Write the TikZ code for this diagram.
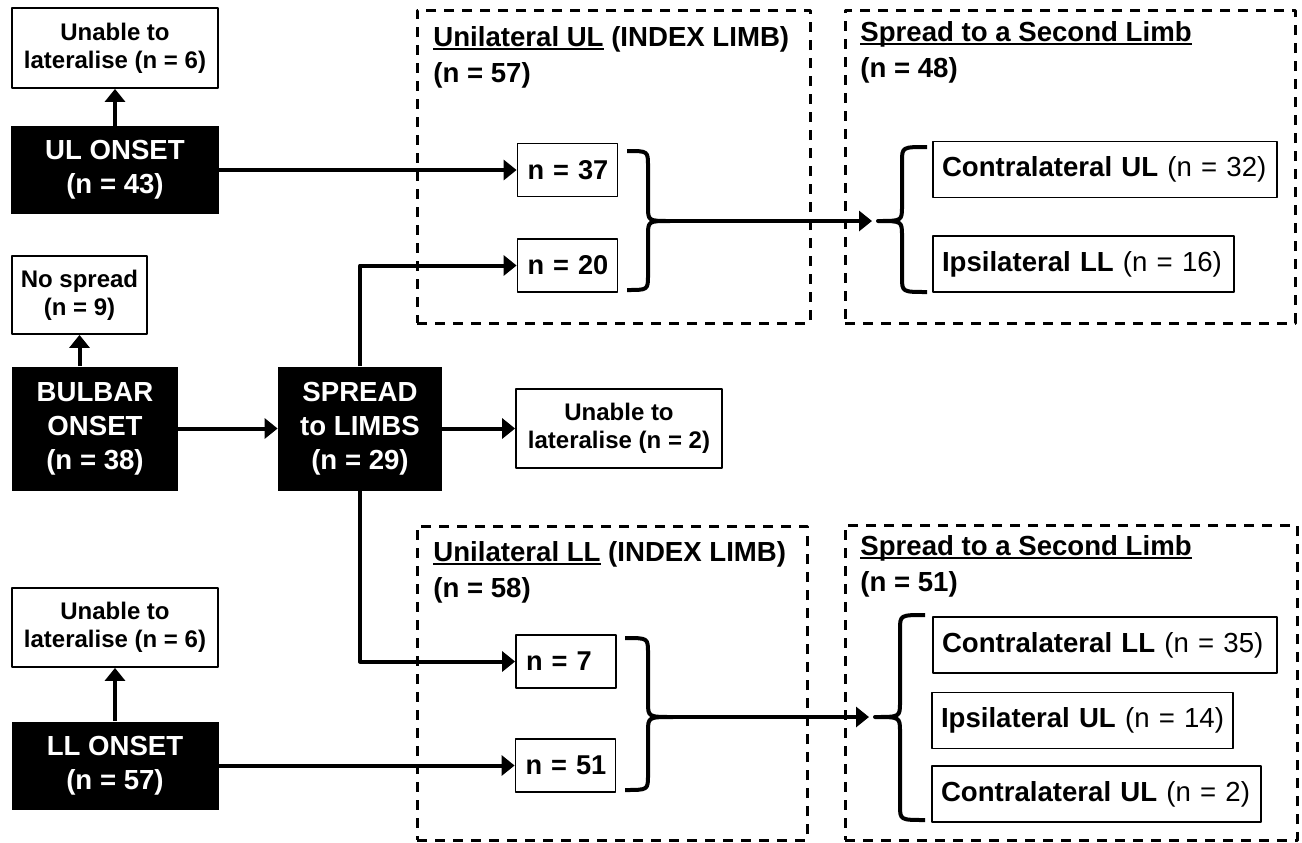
\documentclass[tikz,border=0pt]{standalone}
\usepackage{fontspec}
\setmainfont{Liberation Sans}
\usetikzlibrary{arrows.meta}
\newcommand\ulin[1]{\setbox0\hbox{#1}\rlap{\rule[-2pt]{\wd0}{1pt}}\box0\relax}
\tikzset{
  block/.style={draw, line width=0.9pt, align=center, inner sep=0pt,
    font=\fontsize{12}{14}\selectfont\bfseries},
  onset/.style={fill=black, text=white, align=center, inner sep=0pt,
    font=\fontsize{13.8}{17}\selectfont\bfseries},
  count/.style={draw, line width=0.9pt, text width=40pt, align=left, inner xsep=5pt,
    minimum height=26.5pt, font=\fontsize{13.6}{17}\selectfont\bfseries},
  limb/.style={draw, line width=0.9pt, align=left, inner xsep=4.5pt,
    minimum height=28pt, font=\fontsize{13.8}{17}\selectfont\bfseries},
  group/.style={draw, line width=1.5pt, dash pattern=on 5pt off 4pt},
  title/.style={anchor=base west, align=left, inner sep=0pt,
    font=\fontsize{13.8}{18}\selectfont\bfseries},
  curly/.style={line width=2pt},
  link/.style={-{Triangle[length=6.5pt,width=10pt]}, line width=2pt}
}

\begin{document}
\begin{tikzpicture}[x=0.5pt, y=-0.5pt, line join=round]
\useasboundingbox (0,0) rectangle (1302,842);

% Riquadri tratteggiati
\node [group, minimum width=196.5pt, minimum height=156.5pt] (IndexUL) at (613.5,166.5) {};
\node [group, minimum width=225pt, minimum height=156.5pt] (SecondUL) at (1070,166.5) {};
\node [group, minimum width=195pt, minimum height=157pt] (IndexLL) at (612,683) {};
\node [group, minimum width=226pt, minimum height=157.5pt] (SecondLL) at (1071,682.5) {};
% (base = ultima riga)
\node [title] (IndexULTitle) at (433,82) {\ulin{Unilateral UL} (INDEX LIMB)\\(n = 57)};
\node [title] (SecondULTitle) at (860,77) {\ulin{Spread to a Second Limb}\\(n = 48)};
\node [title] (IndexLLTitle) at (433,597) {\ulin{Unilateral LL} (INDEX LIMB)\\(n = 58)};
\node [title] (SecondLLTitle) at (860,591) {\ulin{Spread to a Second Limb}\\(n = 51)};

% Blocchi
\node [block, minimum width=103pt, minimum height=40pt] (UnableUL) at (115,48) {Unable to\\lateralise (n = 6)};
\node [onset, minimum width=104pt, minimum height=44pt] (ULOnset) at (115,170) {UL ONSET\\(n = 43)};
\node [block, minimum width=67.5pt, minimum height=39pt] (NoSpread) at (79.5,295) {No spread\\(n = 9)};
\node [onset, minimum width=83pt, minimum height=62pt] (BulbarOnset) at (95,428.5) {BULBAR\\ONSET\\(n = 38)};
\node [onset, minimum width=82pt, minimum height=62pt] (SpreadLimbs) at (360,428.5) {SPREAD\\to LIMBS\\(n = 29)};
\node [block, minimum width=103pt, minimum height=39.5pt] (UnableSpread) at (619,428.5) {Unable to\\lateralise (n = 2)};
\node [block, minimum width=103pt, minimum height=39.5pt] (UnableLL) at (115,627.5) {Unable to\\lateralise (n = 6)};
\node [onset, minimum width=103.5pt, minimum height=44pt] (LLOnset) at (115,765.5) {LL ONSET\\(n = 57)};

\node [count] (N37) at (567.5,170) {\mbox{n = 37}};
\node [count] (N20) at (567.5,265.5) {\mbox{n = 20}};
\node [count] (N7) at (566,661.5) {\mbox{n = 7}};
\node [count] (N51) at (565.5,765.5) {\mbox{n = 51}};

\node [limb, text width=163pt] (ContraUL) at (1105,169.5) {Contralateral UL \mdseries(n = 32)};
\node [limb, text width=141.5pt] (IpsiLL) at (1083.5,264) {Ipsilateral LL \mdseries(n = 16)};
\node [limb, text width=163pt] (ContraLL) at (1105,645) {Contralateral LL \mdseries(n = 35)};
\node [limb, text width=141.5pt] (IpsiUL) at (1082.5,720.5) {Ipsilateral UL \mdseries(n = 14)};
\node [limb, text width=155.5pt] (ContraULtwo) at (1096.5,794) {Contralateral UL \mdseries(n = 2)};

% Graffe
\draw [curly] (627,151) .. controls (648,151) .. (648,166) -- (648,206)
  .. controls (648,221) .. (670,221) .. controls (648,221) .. (648,236)
  -- (648,275) .. controls (648,290) .. (627,290);
\draw [curly] (927,147) .. controls (902,147) .. (902,162) -- (902,206)
  .. controls (902,221) .. (878,221) .. controls (902,221) .. (902,236)
  -- (902,277) .. controls (902,292) .. (927,292);
\draw [curly] (625,638) .. controls (648,638) .. (648,653) -- (648,702)
  .. controls (648,717) .. (673,717) .. controls (648,717) .. (648,732)
  -- (648,775) .. controls (648,790) .. (625,790);
\draw [curly] (925,615) .. controls (900,615) .. (900,630) -- (900,702)
  .. controls (900,717) .. (875,717) .. controls (900,717) .. (900,732)
  -- (900,805) .. controls (900,820) .. (925,820);
\coordinate (IndexULTip) at (670,221);
\coordinate (SecondULTip) at (878,221);
\coordinate (IndexLLTip) at (673,717);
\coordinate (SecondLLTip) at (875,717);

% Collegamenti
\path [link] (ULOnset.north) edge (UnableUL.south);
\path [link] (ULOnset.east) edge (N37.west);
\path [link] (NoSpread.south |- BulbarOnset.north) edge (NoSpread.south);
\path [link] (BulbarOnset.east) edge (SpreadLimbs.west);
\path [link] (SpreadLimbs.east) edge (UnableSpread.west);
\draw [link] (SpreadLimbs.north) |- (N20.west);
\draw [link] (SpreadLimbs.south) |- (N7.west);
\path [link] (LLOnset.north) edge (UnableLL.south);
\path [link] (LLOnset.east) edge (N51.west);
\path [link, shorten >=3pt] (IndexULTip) edge (SecondULTip);
\path [link, shorten >=3pt] (IndexLLTip) edge (SecondLLTip);

\end{tikzpicture}
\end{document}
